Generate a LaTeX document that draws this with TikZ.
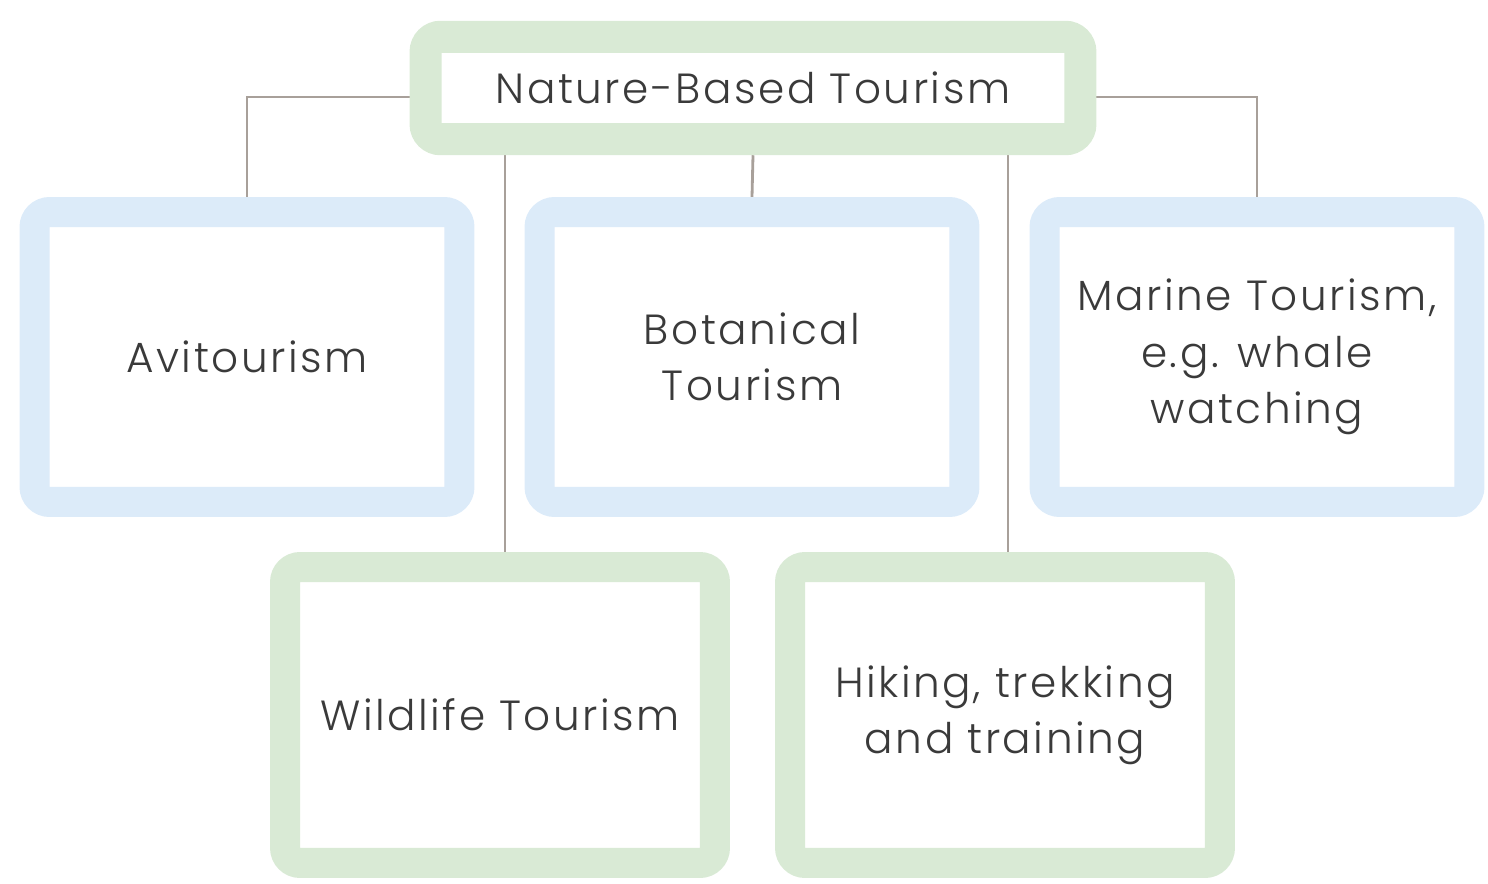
\documentclass[tikz,border=0pt]{standalone}
\usepackage{fontspec}
\setmainfont{Poppins}[UprightFont=* Light,LetterSpace=6]
\usetikzlibrary{backgrounds}
\definecolor{leafgreen}{HTML}{D9EAD5}
\definecolor{skyblue}{HTML}{DCEBF9}
\definecolor{inkgray}{HTML}{3A3A3A}
\definecolor{linkgray}{HTML}{A8A09A}
\begin{document}
\begin{tikzpicture}[x=0.02cm,y=-0.02cm,
    greenbox/.style={draw=leafgreen,line width=0.6cm,rounded corners=0.3cm,fill=white,
      text=inkgray,align=center,inner sep=0pt,font=\fontsize{24}{32}\selectfont},
    bluebox/.style={greenbox,draw=skyblue},
    link/.style={draw=linkgray,line width=1.6pt}]
    \useasboundingbox (0,0) rectangle (1488,883);
    % top node
    \node[greenbox,line width=0.64cm,minimum width=13.1cm,minimum height=2.05cm] (nbt) at (753,88) {Nature-Based Tourism};

    % first row
    \node[bluebox,minimum width=8.5cm,minimum height=5.8cm] (avi) at (247,357) {Avitourism};
    \node[bluebox,minimum width=8.5cm,minimum height=5.8cm] (bot) at (752,357) {Botanical\\Tourism};
    \node[bluebox,minimum width=8.5cm,minimum height=5.8cm] (mar) at (1257,357) {Marine Tourism,\\e.g. whale\\watching};

    % second row
    \node[greenbox,minimum width=8.6cm,minimum height=5.92cm] (wild) at (500,715) {Wildlife Tourism};
    \node[greenbox,minimum width=8.6cm,minimum height=5.92cm] (hike) at (1005,715) {Hiking, trekking\\and training};

    \begin{scope}[on background layer]
        \draw[link] ([yshift=-0.18cm]nbt.west) -| (avi.north);
        \draw[link] ([yshift=-0.18cm]nbt.east) -| (mar.north);
        \draw[link] (nbt.south) -- (bot.north);
        \draw[link] ([xshift=0.1cm]nbt.south -| wild.north) -- ([xshift=0.1cm]wild.north);
        \draw[link] ([xshift=0.06cm]nbt.south -| hike.north) -- ([xshift=0.06cm]hike.north);
    \end{scope}
\end{tikzpicture}
\end{document}
